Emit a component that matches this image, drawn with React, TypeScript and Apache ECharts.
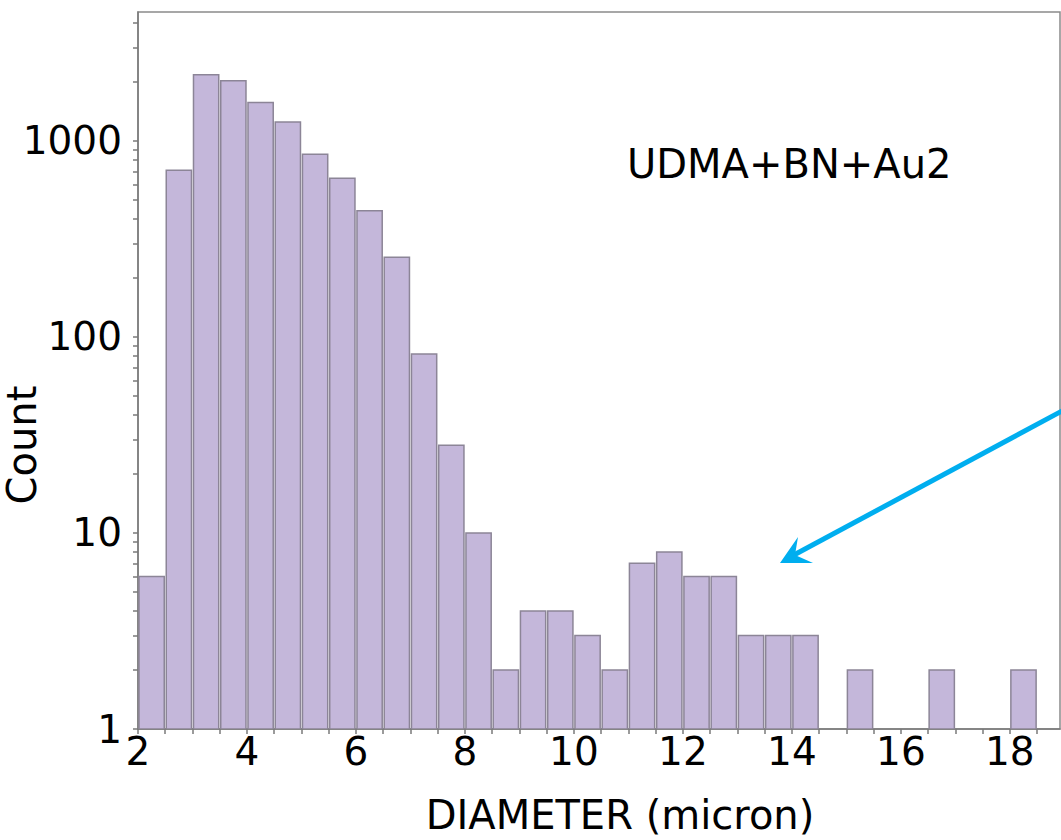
import React, { useEffect, useRef } from "react";
import * as echarts from "echarts";

// Histogram bins (left edge, right edge) in micron and counts
const binLeft = [2.0, 2.5, 3.0, 3.5, 4.0, 4.5, 5.0, 5.5, 6.0, 6.5, 7.0, 7.5, 8.0, 8.5, 9.0, 9.5, 10.0, 10.5, 11.0, 11.5, 12.0, 12.5, 13.0, 13.5, 14.0, 14.5, 15.0, 15.5, 16.0, 16.5, 17.0, 17.5, 18.0];
const binRight = [2.5, 3.0, 3.5, 4.0, 4.5, 5.0, 5.5, 6.0, 6.5, 7.0, 7.5, 8.0, 8.5, 9.0, 9.5, 10.0, 10.5, 11.0, 11.5, 12.0, 12.5, 13.0, 13.5, 14.0, 14.5, 15.0, 15.5, 16.0, 16.5, 17.0, 17.5, 18.0, 18.5];
const counts = [6, 710, 2180, 2030, 1570, 1250, 855, 645, 440, 255, 82, 28, 10, 2, 4, 4, 3, 2, 7, 8, 6, 6, 3, 3, 3, 0, 2, 0, 0, 2, 0, 0, 2];

const xLabelValues = [2, 4, 6, 8, 10, 12, 14, 16, 18];
const xTickValues = [2, 2.5, 3, 3.5, 4, 4.5, 5, 5.5, 6, 6.5, 7, 7.5, 8, 8.5, 9, 9.5, 10, 10.5, 11, 11.5, 12, 12.5, 13, 13.5, 14, 14.5, 15, 15.5, 16, 16.5, 17, 17.5, 18, 18.5];
const yLabelValues = [1, 10, 100, 1000];
const yTickValues = [1, 2, 3, 4, 5, 6, 7, 8, 9, 10, 20, 30, 40, 50, 60, 70, 80, 90, 100, 200, 300, 400, 500, 600, 700, 800, 900, 1000, 2000, 3000, 4000];

const annotation = "UDMA+BN+Au2";
const xTitle = "DIAMETER (micron)";
const yTitle = "Count";

export default function App() {
  const ref = useRef<HTMLDivElement>(null);
  useEffect(() => {
    if (!ref.current) return;
    const chart = echarts.init(ref.current, undefined, { renderer: "svg" });
    const font = "DejaVu Sans";
    const data = binLeft
      .map((l, i) => [l, binRight[i], counts[i]])
      .filter((d) => d[2] > 0);
    chart.setOption({
      animation: false,
      backgroundColor: "#ffffff",
      grid: {
        left: 138,
        top: 12,
        width: 922,
        height: 717,
        show: true,
        borderColor: "#8a8a8a",
        borderWidth: 1.5,
        backgroundColor: "transparent",
      },
      xAxis: {
        type: "value",
        min: 2,
        max: 18.92,
        interval: 2,
        axisLine: { show: true, onZero: false, lineStyle: { color: "#7a7a7a", width: 1.5 } },
        axisTick: {
          show: true,
          length: 5,
          customValues: xTickValues,
          lineStyle: { color: "#7a7a7a", width: 1.5 },
        },
        axisLabel: {
          customValues: xLabelValues,
          fontFamily: font,
          fontSize: 39,
          color: "#000",
          margin: 3,
        },
        splitLine: { show: false },
      },
      yAxis: {
        type: "log",
        logBase: 10,
        min: 1,
        max: 4550,
        axisLine: { show: true, lineStyle: { color: "#7a7a7a", width: 1.5 } },
        axisTick: {
          show: true,
          length: 5,
          customValues: yTickValues,
          lineStyle: { color: "#7a7a7a", width: 1.5 },
        },
        axisLabel: {
          customValues: yLabelValues,
          formatter: (v: number) => String(Math.round(v)),
          fontFamily: font,
          fontSize: 39,
          color: "#000",
          margin: 16,
        },
        splitLine: { show: false },
      },
      series: [
        {
          type: "custom",
          data,
          clip: true,
          renderItem: (params: any, api: any) => {
            const x0 = api.value(0);
            const x1 = api.value(1);
            const c = api.value(2);
            const p0 = api.coord([x0, c]);
            const p1 = api.coord([x1, 1]);
            return {
              type: "rect",
              shape: {
                x: p0[0] + 1,
                y: p0[1],
                width: p1[0] - p0[0] - 2,
                height: p1[1] - p0[1],
              },
              style: { fill: "#c4b7da", stroke: "#8c8597", lineWidth: 1.5 },
            };
          },
        },
      ],
      graphic: [
        {
          type: "text",
          x: 627,
          y: 164,
          style: {
            text: annotation,
            font: `40px ${font}`,
            fill: "#000",
            align: "left",
            verticalAlign: "middle",
          },
        },
        {
          type: "text",
          x: 620,
          y: 815,
          style: {
            text: xTitle,
            font: `40px ${font}`,
            fill: "#000",
            align: "center",
            verticalAlign: "middle",
          },
        },
        {
          type: "text",
          x: 22,
          y: 445,
          rotation: Math.PI / 2,
          style: {
            text: yTitle,
            font: `40px ${font}`,
            fill: "#000",
            align: "center",
            verticalAlign: "middle",
          },
        },
        {
          type: "line",
          shape: { x1: 1075, y1: 404, x2: 792, y2: 556 },
          style: { stroke: "#00aeef", lineWidth: 5 },
        },
        {
          type: "polygon",
          shape: {
            points: [
              [780, 563],
              [798, 537],
              [795, 555],
              [813, 563],
            ],
          },
          style: { fill: "#00aeef" },
        },
      ],
    });
    return () => chart.dispose();
  }, []);
  return (
    <div
      ref={ref}
      style={{ position: "absolute", left: 0, top: 0, width: 1061, height: 840 }}
    />
  );
}
